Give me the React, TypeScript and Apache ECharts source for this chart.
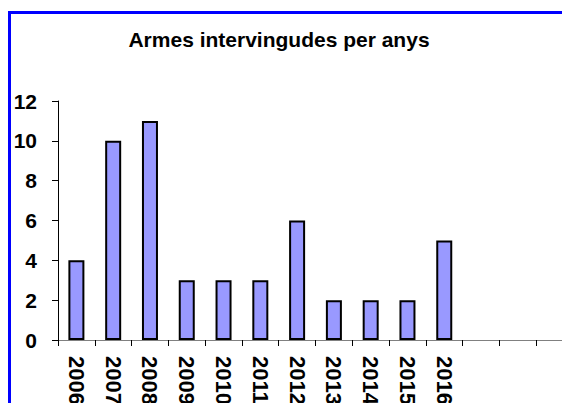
import React, { useEffect, useRef } from "react";
import * as echarts from "echarts";

const categories = ["2006", "2007", "2008", "2009", "2010", "2011", "2012", "2013", "2014", "2015", "2016", "", "", ""];
const values = [4, 10, 11, 3, 3, 3, 6, 2, 2, 2, 5, null, null, null];
const titleText = "Armes intervingudes per anys";

export default function App() {
  const ref = useRef<HTMLDivElement>(null);
  useEffect(() => {
    if (!ref.current) return;
    const chart = echarts.init(ref.current, undefined, { renderer: "svg" });
    const font = "'Liberation Sans', Arial, sans-serif";
    chart.setOption({
      animation: false,
      backgroundColor: "#ffffff",
      title: {
        text: titleText,
        left: 274,
        top: 24,
        textAlign: "center",
        textStyle: { fontFamily: font, fontWeight: "bold", fontSize: 21, color: "#000" },
      },
      graphic: [
        { type: "line", shape: { x1: 8, y1: 12.5, x2: 600, y2: 12.5 }, style: { stroke: "#0000ff", lineWidth: 3 } },
        { type: "line", shape: { x1: 9.5, y1: 11, x2: 9.5, y2: 410 }, style: { stroke: "#0000ff", lineWidth: 3 } },
      ],
      grid: { left: 58, top: 101, bottom: 63, right: 27, containLabel: false, outerBoundsMode: "none" },
      xAxis: {
        type: "category",
        data: categories,
        boundaryGap: true,
        axisLine: { lineStyle: { color: "#808080", width: 1 } },
        axisTick: { show: true, length: 6, lineStyle: { color: "#000" }, alignWithLabel: false },
        axisLabel: {
          interval: 0,
          rotate: -90,
          margin: 16,
          fontFamily: font,
          fontWeight: "bold",
          fontSize: 22,
          color: "#000",
        },
      },
      yAxis: {
        type: "value",
        min: 0,
        max: 12,
        interval: 2,
        axisLine: { show: true, lineStyle: { color: "#000", width: 1 } },
        axisTick: { show: true, length: 6, lineStyle: { color: "#000" } },
        splitLine: { show: false },
        axisLabel: { margin: 21, fontFamily: font, fontWeight: "bold", fontSize: 21, color: "#000" },
      },
      series: [
        {
          type: "bar",
          data: values,
          barWidth: 16,
          itemStyle: { color: "#9999ff", borderColor: "#000", borderWidth: 2 },
        },
      ],
    });
    return () => chart.dispose();
  }, []);
  return (
    <div style={{ position: "fixed", left: 0, top: 0, width: 562, height: 403, overflow: "hidden", background: "#fff" }}>
      <div ref={ref} style={{ width: 600, height: 403 }} />
    </div>
  );
}
